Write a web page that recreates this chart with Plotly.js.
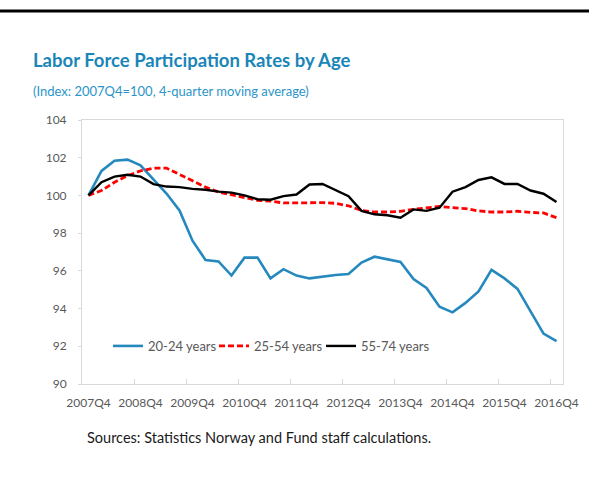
<!DOCTYPE html>
<html>
<head>
<meta charset="utf-8">
<script src="https://cdn.plot.ly/plotly-3.0.1.min.js"></script>
<style>html,body{margin:0;padding:0;background:#fff;}#chart{width:589px;height:481px;}</style>
</head>
<body>
<div id="chart"></div>
<script>
const quarters = [
  '2007Q4','2008Q1','2008Q2','2008Q3','2008Q4','2009Q1','2009Q2','2009Q3','2009Q4',
  '2010Q1','2010Q2','2010Q3','2010Q4','2011Q1','2011Q2','2011Q3','2011Q4',
  '2012Q1','2012Q2','2012Q3','2012Q4','2013Q1','2013Q2','2013Q3','2013Q4',
  '2014Q1','2014Q2','2014Q3','2014Q4','2015Q1','2015Q2','2015Q3','2015Q4',
  '2016Q1','2016Q2','2016Q3','2016Q4'
];
const age20_24 = [100, 101.3, 101.84, 101.9, 101.6, 100.85, 100.1, 99.2, 97.6,
  96.58, 96.5, 95.75, 96.7, 96.7, 95.6, 96.09, 95.75,
  95.6, 95.7, 95.78, 95.83, 96.44, 96.75, 96.6, 96.47,
  95.56, 95.09, 94.1, 93.8, 94.3, 94.91, 96.05, 95.6,
  95.04, 93.86, 92.67, 92.28];
const age25_54 = [100, 100.26, 100.7, 101.05, 101.3, 101.45, 101.45, 101.1, 100.75,
  100.44, 100.18, 100.02, 99.88, 99.74, 99.7, 99.6, 99.6,
  99.62, 99.62, 99.58, 99.45, 99.2, 99.12, 99.12, 99.16,
  99.26, 99.35, 99.42, 99.35, 99.3, 99.18, 99.12, 99.12,
  99.16, 99.1, 99.07, 98.82];
const age55_74 = [100, 100.7, 101.0, 101.1, 101.0, 100.6, 100.47, 100.44, 100.35,
  100.3, 100.2, 100.15, 100.0, 99.8, 99.77, 99.96, 100.05,
  100.58, 100.61, 100.3, 99.96, 99.18, 99.0, 98.95, 98.82,
  99.26, 99.18, 99.35, 100.2, 100.44, 100.82, 100.96, 100.61,
  100.61, 100.26, 100.09, 99.65];
const seriesNames = ['20-24 years', '25-54 years', '55-74 years'];
const xTickLabels = quarters.filter(q => q.endsWith('Q4'));

const FONT = 'Lato, "Open Sans", sans-serif';
const traces = [
  {x: quarters, y: age20_24, name: seriesNames[0], type: 'scatter', mode: 'lines',
   legend: 'legend', line: {color: '#2589bd', width: 2.6}},
  {x: quarters, y: age25_54, name: seriesNames[1], type: 'scatter', mode: 'lines',
   legend: 'legend2', line: {color: '#ff0000', width: 2.8, dash: '6px,3px'}},
  {x: quarters, y: age55_74, name: seriesNames[2], type: 'scatter', mode: 'lines',
   legend: 'legend3', line: {color: '#000000', width: 2.4}}
];

function legendAt(px) {
  return {orientation: 'h', x: (px - 82)/481, xanchor: 'left', y: 0.144, yanchor: 'middle',
    bgcolor: 'rgba(0,0,0,0)', font: {family: FONT, size: 13, color: '#595959'}};
}

const layout = {
  width: 589, height: 481,
  margin: {l: 82, r: 26, t: 120, b: 97},
  paper_bgcolor: '#ffffff', plot_bgcolor: '#ffffff',
  font: {family: FONT, color: '#595959', size: 12},
  title: {text: 'Labor Force Participation Rates by Age',
    font: {family: FONT, size: 18.5, color: '#1a85b8', weight: 'bold'},
    x: 33/589, xref: 'container', xanchor: 'left',
    y: 1 - 61/481, yref: 'container', yanchor: 'middle'},
  xaxis: {type: 'category', range: [-0.5, 36.5],
    tickvals: xTickLabels, ticktext: xTickLabels, tickangle: 0,
    tickson: 'boundaries', ticks: 'inside', ticklen: 5, tickcolor: '#d9d9d9',
    showline: true, linecolor: '#d9d9d9', linewidth: 1, mirror: true,
    showgrid: false, zeroline: false, fixedrange: true, ticklabelstandoff: 8,
    tickfont: {family: FONT, size: 12, color: '#595959'}},
  yaxis: {range: [90, 104], dtick: 2, tick0: 90,
    ticks: 'outside', ticklen: 3, tickcolor: '#d9d9d9',
    showline: true, linecolor: '#d9d9d9', linewidth: 1, mirror: true,
    showgrid: false, zeroline: false, fixedrange: true, ticklabelstandoff: 9,
    tickfont: {family: FONT, size: 12, color: '#595959'}},
  showlegend: true,
  legend: legendAt(108),
  legend2: legendAt(214),
  legend3: legendAt(321),
  annotations: [
    {text: '(Index: 2007Q4=100, 4-quarter moving average)', xref: 'paper', yref: 'paper',
     x: (31-82)/481, y: (384-91)/264, xanchor: 'left', yanchor: 'middle', showarrow: false,
     font: {family: FONT, size: 13, color: '#2b95c8'}},
    {text: 'Sources: Statistics Norway and Fund staff calculations.', xref: 'paper', yref: 'paper',
     x: (85-82)/481, y: (384-437)/264, xanchor: 'left', yanchor: 'middle', showarrow: false,
     font: {family: FONT, size: 14.5, color: '#1a1a1a'}}
  ],
  shapes: [
    {type: 'line', xref: 'paper', yref: 'paper', x0: -82/481, x1: (589-82)/481,
     y0: (384-11)/264, y1: (384-11)/264, line: {color: '#000000', width: 3}}
  ]
};

Plotly.newPlot('chart', traces, layout, {displayModeBar: false, staticPlot: true});
</script>
</body>
</html>
